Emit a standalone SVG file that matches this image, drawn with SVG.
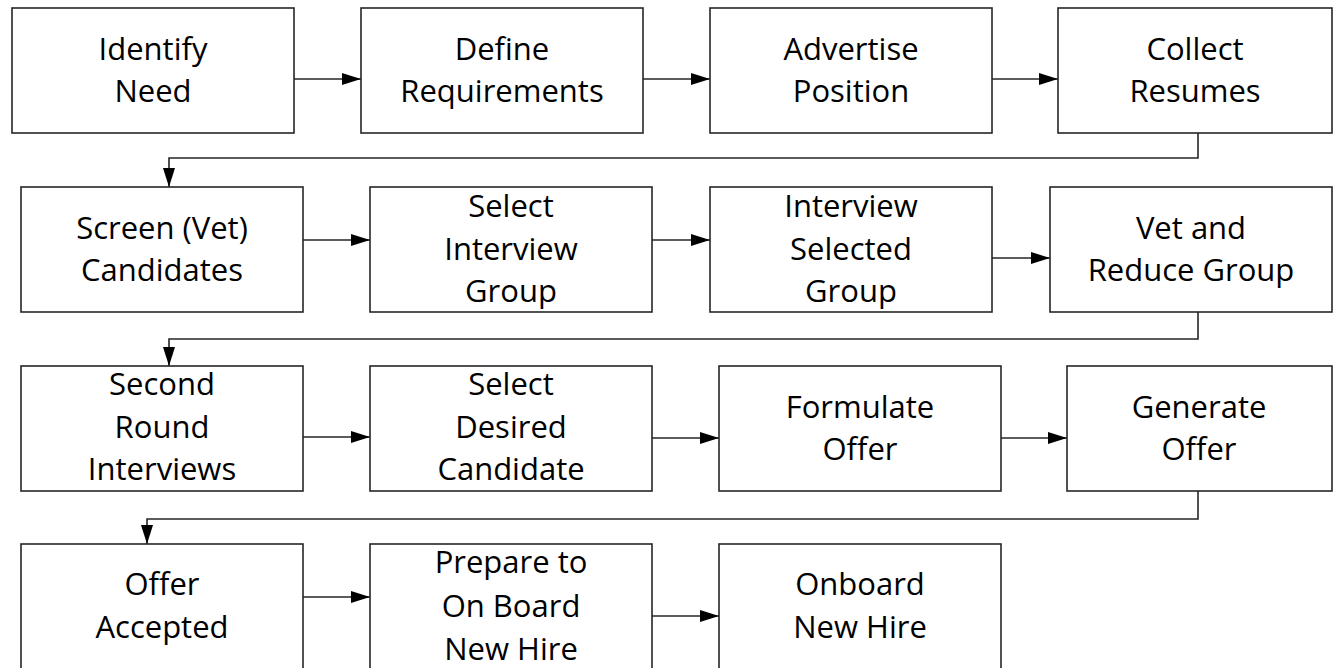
<svg xmlns="http://www.w3.org/2000/svg" width="1333" height="668" viewBox="0 0 1333 668">
<style>
.box{fill:#fff;stroke:#262626;stroke-width:1.6}
.lbl{font-family:"Open Sans","Liberation Sans",sans-serif;font-size:31px;fill:#000;text-anchor:middle}
.con{fill:none;stroke:#262626;stroke-width:1.6}
</style>
<defs>
<marker id="ah" markerWidth="19" markerHeight="12" refX="19" refY="6" orient="auto" markerUnits="userSpaceOnUse">
<path d="M0,0 L19,6 L0,12 Z" fill="#000"/>
</marker>
</defs>
<rect width="1333" height="668" fill="#fff"/>
<g id="connectors">
<path class="con" d="M294,79 H361" marker-end="url(#ah)"/>
<path class="con" d="M643,79 H710" marker-end="url(#ah)"/>
<path class="con" d="M992,79 H1058" marker-end="url(#ah)"/>
<path class="con" d="M1198,133 V158 H169 V187" marker-end="url(#ah)"/>
<path class="con" d="M303,240 H370" marker-end="url(#ah)"/>
<path class="con" d="M652,240 H710" marker-end="url(#ah)"/>
<path class="con" d="M992,258 H1050" marker-end="url(#ah)"/>
<path class="con" d="M1198,312 V339 H169 V366" marker-end="url(#ah)"/>
<path class="con" d="M303,437 H370" marker-end="url(#ah)"/>
<path class="con" d="M652,438 H719" marker-end="url(#ah)"/>
<path class="con" d="M1001,438 H1067" marker-end="url(#ah)"/>
<path class="con" d="M1198,491 V519 H147 V544" marker-end="url(#ah)"/>
<path class="con" d="M303,597 H370" marker-end="url(#ah)"/>
<path class="con" d="M652,616 H719" marker-end="url(#ah)"/>
</g>
<g id="n1"><rect class="box" x="12" y="8" width="282" height="125"/><text class="lbl" x="153" y="60">Identify</text><text class="lbl" x="153" y="102">Need</text></g>
<g id="n2"><rect class="box" x="361" y="8" width="282" height="125"/><text class="lbl" x="502" y="60">Define</text><text class="lbl" x="502" y="102">Requirements</text></g>
<g id="n3"><rect class="box" x="710" y="8" width="282" height="125"/><text class="lbl" x="851" y="60">Advertise</text><text class="lbl" x="851" y="102">Position</text></g>
<g id="n4"><rect class="box" x="1058" y="8" width="274" height="125"/><text class="lbl" x="1195" y="60">Collect</text><text class="lbl" x="1195" y="102">Resumes</text></g>
<g id="n5"><rect class="box" x="21" y="187" width="282" height="125"/><text class="lbl" x="162" y="239">Screen (Vet)</text><text class="lbl" x="162" y="281">Candidates</text></g>
<g id="n6"><rect class="box" x="370" y="187" width="282" height="125"/><text class="lbl" x="511" y="217">Select</text><text class="lbl" x="511" y="260">Interview</text><text class="lbl" x="511" y="302">Group</text></g>
<g id="n7"><rect class="box" x="710" y="187" width="282" height="125"/><text class="lbl" x="851" y="217">Interview</text><text class="lbl" x="851" y="260">Selected</text><text class="lbl" x="851" y="302">Group</text></g>
<g id="n8"><rect class="box" x="1050" y="187" width="282" height="125"/><text class="lbl" x="1191" y="239">Vet and</text><text class="lbl" x="1191" y="281">Reduce Group</text></g>
<g id="n9"><rect class="box" x="21" y="366" width="282" height="125"/><text class="lbl" x="162" y="395">Second</text><text class="lbl" x="162" y="438">Round</text><text class="lbl" x="162" y="480">Interviews</text></g>
<g id="n10"><rect class="box" x="370" y="366" width="282" height="125"/><text class="lbl" x="511" y="395">Select</text><text class="lbl" x="511" y="438">Desired</text><text class="lbl" x="511" y="480">Candidate</text></g>
<g id="n11"><rect class="box" x="719" y="366" width="282" height="125"/><text class="lbl" x="860" y="418">Formulate</text><text class="lbl" x="860" y="460">Offer</text></g>
<g id="n12"><rect class="box" x="1067" y="366" width="265" height="125"/><text class="lbl" x="1199" y="418">Generate</text><text class="lbl" x="1199" y="460">Offer</text></g>
<g id="n13"><rect class="box" x="21" y="544" width="282" height="125"/><text class="lbl" x="162" y="595">Offer</text><text class="lbl" x="162" y="638">Accepted</text></g>
<g id="n14"><rect class="box" x="370" y="544" width="282" height="125"/><text class="lbl" x="511" y="573">Prepare to</text><text class="lbl" x="511" y="617">On Board</text><text class="lbl" x="511" y="660">New Hire</text></g>
<g id="n15"><rect class="box" x="719" y="544" width="282" height="125"/><text class="lbl" x="860" y="595">Onboard</text><text class="lbl" x="860" y="638">New Hire</text></g>
</svg>
